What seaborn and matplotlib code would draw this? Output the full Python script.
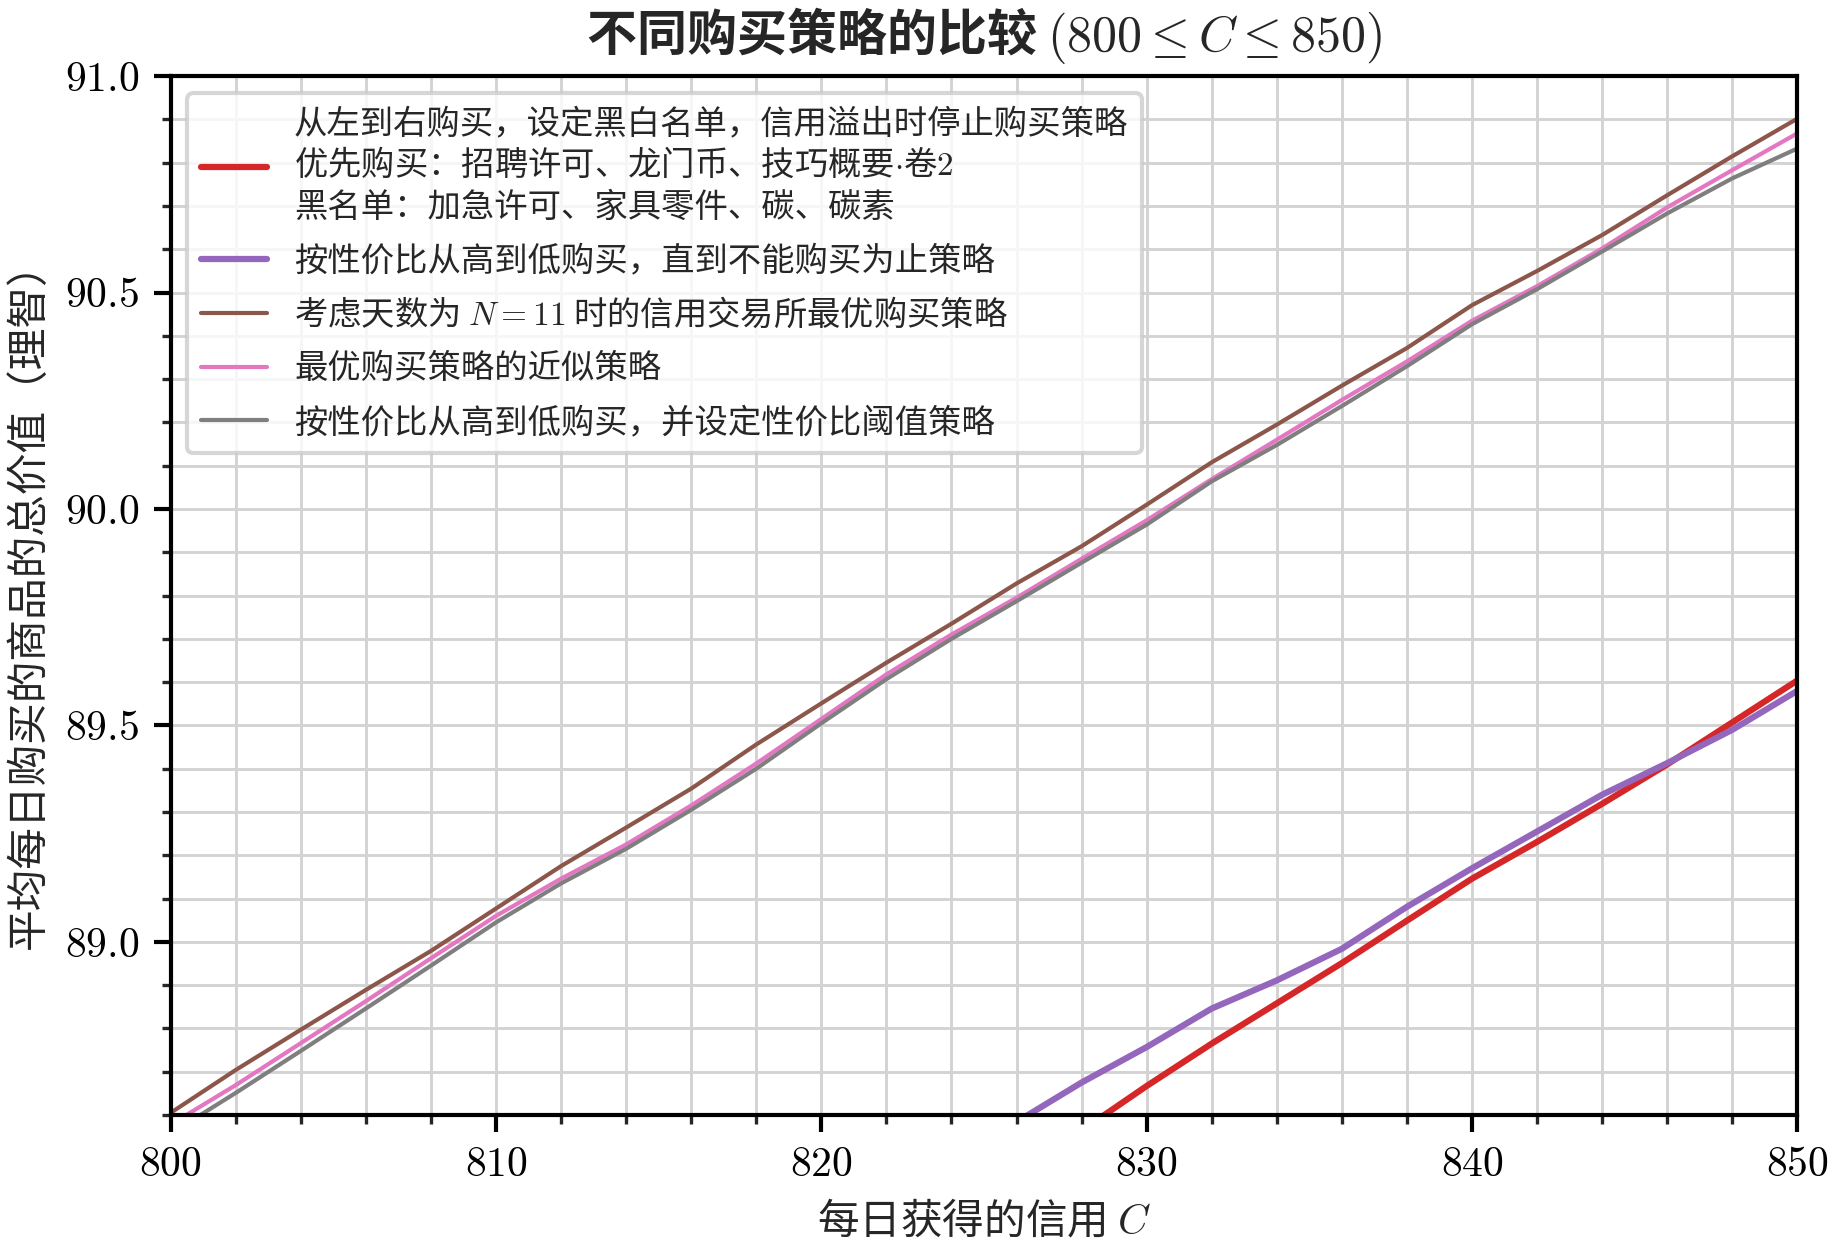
import numpy as np
import pandas as pd
import matplotlib
matplotlib.use("Agg")
import matplotlib.pyplot as plt
from matplotlib.ticker import MultipleLocator
import seaborn as sns

# Values (C = credit per day)
C_full = [800, 802, 804, 806, 808, 810, 812, 814, 816, 818, 820, 822, 824,
          826, 828, 830, 832, 834, 836, 838, 840, 842, 844, 846, 848, 850]

optimal_n11 = [88.605, 88.704, 88.797, 88.889, 88.979, 89.077, 89.175, 89.264,
               89.354, 89.456, 89.551, 89.645, 89.735, 89.828, 89.914, 90.010,
               90.108, 90.195, 90.285, 90.372, 90.471, 90.550, 90.633, 90.725,
               90.815, 90.902]

approx_optimal = [88.578, 88.669, 88.766, 88.863, 88.962, 89.060, 89.146, 89.225,
                  89.315, 89.412, 89.515, 89.618, 89.710, 89.795, 89.885, 89.974,
                  90.069, 90.160, 90.252, 90.341, 90.435, 90.515, 90.602, 90.697,
                  90.783, 90.868]

threshold_greedy = [88.557, 88.651, 88.748, 88.846, 88.945, 89.045, 89.135, 89.215,
                    89.305, 89.400, 89.505, 89.607, 89.700, 89.787, 89.876, 89.964,
                    90.064, 90.148, 90.238, 90.330, 90.427, 90.508, 90.595, 90.683,
                    90.764, 90.833]

C_red = [828, 830, 832, 834, 836, 838, 840, 842, 844, 846, 848, 850]
left_to_right = [88.564, 88.667, 88.765, 88.858, 88.951, 89.049, 89.146, 89.231,
                 89.319, 89.410, 89.507, 89.604]

C_purple = [826, 828, 830, 832, 834, 836, 838, 840, 842, 844, 846, 848, 850]
greedy = [88.584, 88.675, 88.757, 88.846, 88.911, 88.984, 89.081, 89.170,
          89.255, 89.340, 89.413, 89.490, 89.580]

labels = [
    "从左到右购买，设定黑白名单，信用溢出时停止购买策略\n"
    "优先购买：招聘许可、龙门币、技巧概要$\\cdot$卷$2$\n"
    "黑名单：加急许可、家具零件、碳、碳素",
    "按性价比从高到低购买，直到不能购买为止策略",
    "考虑天数为 $N=11$ 时的信用交易所最优购买策略",
    "最优购买策略的近似策略",
    "按性价比从高到低购买，并设定性价比阈值策略",
]

CJK = "Noto Sans CJK SC"

sns.set_theme(style="ticks")
plt.rcParams["font.family"] = ["cmr10", CJK, "DejaVu Sans"]
plt.rcParams["mathtext.fontset"] = "cm"
plt.rcParams["axes.formatter.use_mathtext"] = True
plt.rcParams["axes.unicode_minus"] = False

fig, ax = plt.subplots(figsize=(1835 / 300, 1249 / 300), dpi=300)
fig.subplots_adjust(left=0.093, right=0.9795, top=0.939, bottom=0.1073)

series = [
    (C_red, left_to_right, "#d62728", 1.5),
    (C_purple, greedy, "#9467bd", 1.5),
    (C_full, optimal_n11, "#8c564b", 1.0),
    (C_full, approx_optimal, "#e377c2", 1.0),
    (C_full, threshold_greedy, "#7f7f7f", 1.0),
]
for (xs, ys, col, lw), lab in zip(series, labels):
    df = pd.DataFrame({"C": xs, "v": ys})
    sns.lineplot(data=df, x="C", y="v", color=col, linewidth=lw, label=lab, ax=ax)

ax.set_xlim(800, 850)
ax.set_ylim(88.6, 91.0)
ax.xaxis.set_major_locator(MultipleLocator(10))
ax.xaxis.set_minor_locator(MultipleLocator(2))
ax.yaxis.set_major_locator(MultipleLocator(0.5))
ax.yaxis.set_minor_locator(MultipleLocator(0.1))
ax.grid(which="both", color="#d3d3d3", linewidth=0.7)
ax.set_axisbelow(True)
for s in ax.spines.values():
    s.set_color("black")
    s.set_linewidth(1.0)
ax.tick_params(which="major", direction="out", length=4, width=1.0,
               labelsize=10, colors="black")
ax.tick_params(which="minor", direction="out", length=2.2, width=0.8)

# texts mixing CJK and mathtext need a CJK base font (mathtext has no fallback)
ax.set_xlabel("每日获得的信用 $C$", fontsize=10, family=CJK)
ax.set_ylabel("平均每日购买的商品的总价值（理智）", fontsize=10)
ax.set_title("不同购买策略的比较 $(800 \\leq C \\leq 850)$", fontsize=12,
             fontweight="bold", family=CJK)

leg = ax.legend(loc="upper left", prop={"family": CJK, "size": 8},
                labelspacing=0.56, frameon=True)
for t in leg.get_texts():
    t.set_linespacing(1.25)

fig.savefig("out.png", dpi=300)
